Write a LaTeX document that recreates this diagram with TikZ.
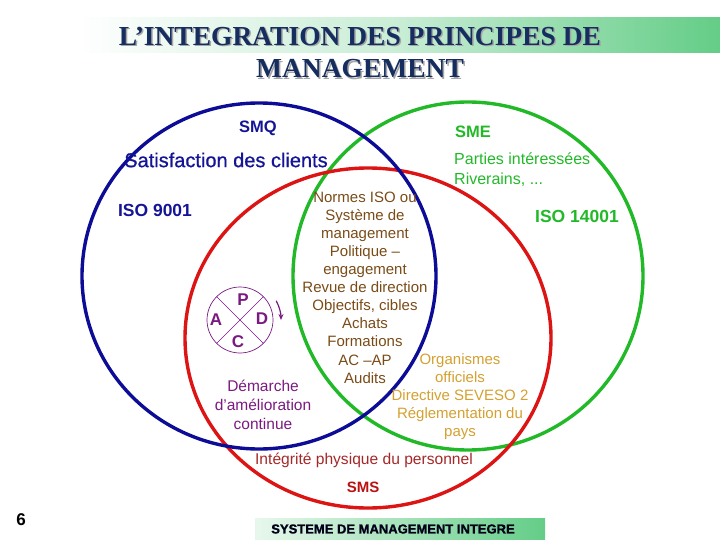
\documentclass[tikz,border=0pt]{standalone}
\usepackage{fontspec}
\usetikzlibrary{calc,arrows.meta}
\setmainfont{Liberation Sans}
\newfontfamily\titlefont{Liberation Serif}
\newfontfamily\semib[FakeBold=0.7]{Liberation Sans}
\newfontfamily\heavy[UprightFont={* Bold},FakeBold=1.3]{Liberation Sans}
\definecolor{navy}{RGB}{21,45,95}
\definecolor{qblue}{RGB}{12,12,150}
\definecolor{qtext}{RGB}{20,20,150}
\definecolor{egreen}{RGB}{34,185,40}
\definecolor{sred}{RGB}{220,20,20}
\definecolor{brownt}{RGB}{122,75,23}
\definecolor{goldt}{RGB}{212,160,48}
\definecolor{purp}{RGB}{122,26,128}
\definecolor{dred}{RGB}{165,40,40}
\definecolor{bandgreen}{RGB}{100,205,135}
\begin{document}
\begin{tikzpicture}[x=1pt,y=-1pt,
  circ/.style={line width=3.4pt},
  ttl/.style={font=\titlefont\bfseries\fontsize{27.5}{30}\selectfont},
  lbl/.style={inner sep=0pt, align=center},
]
\useasboundingbox (0,0) rectangle (720,540);
% top band
\shade[left color=white, right color=bandgreen, middle color=bandgreen!35] (75,18) rectangle (720,53);
% bottom band
\shade[left color=bandgreen!15, right color=bandgreen] (255,518) rectangle (545,540);
% title
\node[ttl, text=black!35] (t1s) at (361.5,37.5) {L’INTEGRATION DES PRINCIPES DE};
\node[ttl, text=navy] (t1) at (360,36) {L’INTEGRATION DES PRINCIPES DE};
\node[ttl, text=black!35] (t2s) at (361.5,70.5) {MANAGEMENT};
\node[ttl, text=navy] (t2) at (360,69) {MANAGEMENT};
% circles
\draw[circ, egreen] (468,276) ellipse [x radius=175pt, y radius=174pt];
\draw[circ, sred] (368,338) ellipse [x radius=183pt, y radius=170pt];
\draw[circ, qblue] (259,276) ellipse [x radius=177pt, y radius=173pt];
% labels
\node[lbl, text=qtext, font=\bfseries\fontsize{16.5}{18}\selectfont] (smq) at (258,128) {SMQ};
\node[lbl, text=egreen, font=\bfseries\fontsize{16.5}{18}\selectfont] (sme) at (473,132) {SME};
\node[lbl, text=qtext, font=\semib\fontsize{20}{22}\selectfont] (sat) at (226,160) {Satisfaction des clients};
\node[lbl, text=qtext, font=\bfseries\fontsize{17.5}{20}\selectfont] (iso9) at (155,210) {ISO 9001};
\node[lbl, text=egreen, font=\bfseries\fontsize{17.5}{20}\selectfont] (iso14) at (577,216) {ISO 14001};
\node[lbl, text=egreen, font=\fontsize{16}{20}\selectfont, anchor=west, align=left] (parties) at (454,170) {Parties intéressées\\Riverains, ...};
\node[lbl, text=brownt, font=\fontsize{15}{18.1}\selectfont] (centre) at (365,287.5) {Normes ISO ou\\Système de\\management\\Politique –\\engagement\\Revue de direction\\Objectifs, cibles\\Achats\\Formations\\AC –AP\\Audits};
\node[lbl, text=goldt, font=\fontsize{15}{18}\selectfont] (org) at (460,397) {Organismes\\officiels\\Directive SEVESO 2\\Réglementation du\\pays};
\node[lbl, text=purp, font=\fontsize{15.5}{19}\selectfont] (dem) at (263,405) {Démarche\\d’amélioration\\continue};
\node[lbl, text=dred, font=\fontsize{15.6}{18}\selectfont] (integ) at (364,460) {Intégrité physique du personnel};
\node[lbl, text=sred!85!black, font=\bfseries\fontsize{15}{18}\selectfont] (sms) at (363,487) {SMS};
\node[lbl, text=black!90!blue, font=\heavy\fontsize{13}{15}\selectfont] (sys) at (393,529) {SYSTEME DE MANAGEMENT INTEGRE};
\node[lbl, text=black, font=\bfseries\fontsize{17}{20}\selectfont] (num) at (21,520) {6};
% PDCA
\coordinate (pc) at (240,320);
\draw[purp, line width=0.7pt] (pc) circle [radius=33pt];
\draw[purp, line width=0.7pt] ($(pc)+(-23.3,-23.3)$) -- ($(pc)+(23.3,23.3)$);
\draw[purp, line width=0.7pt] ($(pc)+(23.3,-23.3)$) -- ($(pc)+(-23.3,23.3)$);
\node[lbl, text=purp, font=\bfseries\fontsize{17}{20}\selectfont] (p) at (243,300) {P};
\node[lbl, text=purp, font=\bfseries\fontsize{17}{20}\selectfont] (a) at (216,320) {A};
\node[lbl, text=purp, font=\bfseries\fontsize{17}{20}\selectfont] (d) at (262,319) {D};
\node[lbl, text=purp, font=\bfseries\fontsize{17}{20}\selectfont] (c) at (238,342) {C};
\draw[purp, line width=1.2pt, -{Stealth[length=6pt,width=5pt]}] (pc) ++(-28:41) arc[start angle=-28, end angle=0, radius=41];
\end{tikzpicture}
\end{document}
